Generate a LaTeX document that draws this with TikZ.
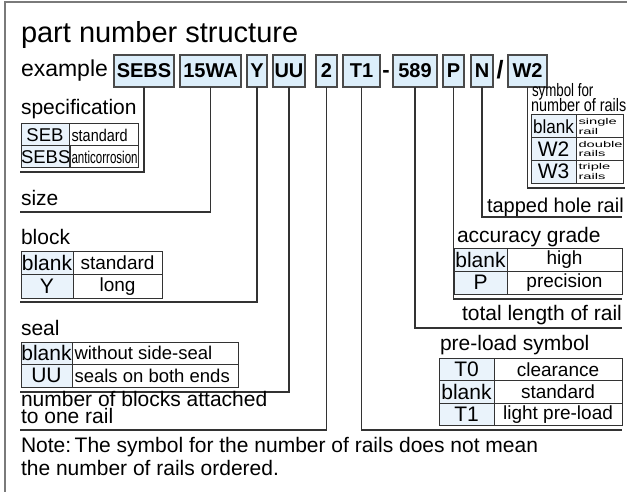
\documentclass[tikz,border=0pt]{standalone}
\usepackage{fontspec}
\setmainfont{Liberation Sans}
\usepackage{graphicx}
\definecolor{boxfill}{HTML}{DCEEFA}
\definecolor{cellfill}{HTML}{EAF3FB}
\definecolor{boxline}{HTML}{4A4A4A}
\definecolor{connline}{HTML}{333333}
\definecolor{framecol}{HTML}{7A7A7A}
\newcommand\fs[1]{\fontsize{#1}{#1}\selectfont}
\newcommand\cx[2]{\scalebox{#1}[1]{#2}}
\newcommand\lt[2]{\makebox[#1][l]{#2}}
\newcommand\twol[2]{\scalebox{1.05}[0.6]{\parbox{40pt}{\fontsize{14}{16}\selectfont #1\\#2}}}
\tikzset{
  pbox/.style={draw=boxline, fill=boxfill, line width=1.2pt, inner sep=0pt, outer sep=0pt,
    minimum height=32pt, font=\fs{20}\bfseries},
  cell/.style={draw=connline, line width=1pt, inner ysep=0pt, inner xsep=2pt, outer sep=0pt, anchor=north west},
  lcell/.style={cell, inner xsep=0pt, fill=cellfill},
  conn/.style={draw=connline, line width=1.2pt},
  lbl/.style={anchor=base west, inner sep=0pt, outer sep=0pt, font=\fs{21}},
}
\begin{document}
\begin{tikzpicture}[x=1pt,y=-1pt]
\useasboundingbox (0,0) rectangle (627,492);
% frame
\draw[framecol, line width=2pt] (5,493) -- (5,2) -- (628,2);
% title
\node[lbl, font=\fs{29}] (title) at (21,43) {part number structure};
\node[lbl, font=\fs{23}] (example) at (21,77) {example};
% part number boxes
\node[pbox, minimum width=60pt] (sebs) at (144,71) {SEBS};
\node[pbox, minimum width=61pt] (size) at (210.5,71) {15WA};
\node[pbox, minimum width=20pt] (blk) at (257,71) {Y};
\node[pbox, minimum width=32pt] (seal) at (289,71) {UU};
\node[pbox, minimum width=21pt] (num) at (326.5,71) {2};
\node[pbox, minimum width=37pt] (pre) at (361.5,71) {T1};
\node[anchor=base, inner sep=0pt, font=\fs{22}\bfseries] (dash) at (386,78) {-};
\node[pbox, minimum width=44pt] (len) at (415,71) {589};
\node[pbox, minimum width=21pt] (acc) at (453.5,71) {P};
\node[pbox, minimum width=22pt] (tap) at (482,71) {N};
\node[anchor=base, inner sep=0pt, font=\fs{25}\bfseries] (slash) at (500,79) {/};
\node[pbox, minimum width=39pt] (rails) at (527.5,71) {W2};

% end coordinates of connectors
\coordinate (specend) at (20,172);
\coordinate (sizeend) at (20,212);
\coordinate (blkend) at (20,302);
\coordinate (sealend) at (20,392);
\coordinate (numend) at (20,430);
\coordinate (preend) at (622,430);
\coordinate (lenend) at (622,328);
\coordinate (accend) at (622,299);
\coordinate (tapend) at (622,217);
\coordinate (railsend) at (625,188);

\draw[conn] (sebs.south) |- (specend);
\draw[conn] (size.south) |- (sizeend);
\draw[conn] (blk.south) |- (blkend);
\draw[conn] (seal.south) |- (sealend);
\draw[conn] (num.south) |- (numend);
\draw[conn] (pre.south) |- (preend);
\draw[conn] (len.south) |- (lenend);
\draw[conn] (acc.south) |- (accend);
\draw[conn] (tap.south) |- (tapend);
\draw[conn] (rails.south) |- (railsend);

% specification
\node[lbl] (speclbl) at (21,115) {specification};
\node[lcell, minimum width=48pt, minimum height=22pt, font=\fs{18.5}] (s11) at (21,124) {SEB};
\node[cell, minimum width=69pt, minimum height=22pt, font=\fs{17}] (s12) at (69,124) {\lt{64pt}{\cx{0.85}{standard}}};
\node[lcell, minimum width=48pt, minimum height=22pt, font=\fs{18.5}] (s21) at (21,146) {SEBS};
\node[cell, minimum width=69pt, minimum height=22pt, font=\fs{17}] (s22) at (69,146) {\lt{64pt}{\cx{0.68}{anticorrosion}}};

% size
\node[lbl] (sizelbl) at (21,205) {size};

% block
\node[lbl] (blklbl) at (21,244) {block};
\node[lcell, minimum width=52pt, minimum height=23.5pt, font=\fs{21}] (b11) at (21,251) {blank};
\node[cell, minimum width=89pt, minimum height=23.5pt, font=\fs{19}] (b12) at (73,251) {standard};
\node[lcell, minimum width=52pt, minimum height=23.5pt, font=\fs{21}] (b21) at (21,274.5) {Y};
\node[cell, minimum width=89pt, minimum height=23.5pt, font=\fs{19}] (b22) at (73,274.5) {long};

% seal
\node[lbl] (seallbl) at (21,335) {seal};
\node[lcell, minimum width=51pt, minimum height=22.5pt, font=\fs{21}] (e11) at (21,342) {blank};
\node[cell, minimum width=166pt, minimum height=22.5pt, font=\fs{18.5}] (e12) at (72,342) {\lt{161pt}{without side-seal}};
\node[lcell, minimum width=51pt, minimum height=22.5pt, font=\fs{21}] (e21) at (21,364.5) {UU};
\node[cell, minimum width=166pt, minimum height=22.5pt, font=\fs{18.5}] (e22) at (72,364.5) {\lt{161pt}{seals on both ends}};

% number of blocks
\node[lbl] (numlbl1) at (21,406) {number of blocks attached};
\node[lbl] (numlbl2) at (21,423) {to one rail};

% note
\node[lbl] (note1) at (21,452) {Note:\,The symbol for the number of rails does not mean};
\node[lbl] (note2) at (21,475) {the number of rails ordered.};

% symbol for number of rails
\node[lbl, font=\fs{18}] (raillbl1) at (532,97) {\cx{0.74}{symbol for}};
\node[lbl, font=\fs{18}] (raillbl2) at (531,112) {\cx{0.8}{number of rails}};
\node[lcell, minimum width=45pt, minimum height=22.7pt, font=\fs{19}] (r11) at (531,115) {\cx{0.9}{blank}};
\node[cell, minimum width=47pt, minimum height=22.7pt] (r12) at (576,115) {\twol{single}{rail}};
\node[lcell, minimum width=45pt, minimum height=22.7pt, font=\fs{21}] (r21) at (531,137.7) {W2};
\node[cell, minimum width=47pt, minimum height=22.7pt] (r22) at (576,137.7) {\twol{double}{rails}};
\node[lcell, minimum width=45pt, minimum height=22.7pt, font=\fs{21}] (r31) at (531,160.4) {W3};
\node[cell, minimum width=47pt, minimum height=22.7pt] (r32) at (576,160.4) {\twol{triple}{rails}};

% tapped hole rail
\node[lbl, font=\fs{20}] (taplbl) at (487,212) {tapped hole rail};

% accuracy grade
\node[lbl] (acclbl) at (457,242) {accuracy grade};
\node[lcell, minimum width=53pt, minimum height=23pt, font=\fs{21}] (a11) at (454,248) {blank};
\node[cell, minimum width=115pt, minimum height=23pt, font=\fs{19}] (a12) at (507,248) {high};
\node[lcell, minimum width=53pt, minimum height=23pt, font=\fs{21}] (a21) at (454,271) {P};
\node[cell, minimum width=115pt, minimum height=23pt, font=\fs{19}] (a22) at (507,271) {precision};

% total length
\node[lbl] (lenlbl) at (462,320) {total length of rail};

% pre-load
\node[lbl] (prelbl) at (440,350) {pre-load symbol};
\node[lcell, minimum width=55pt, minimum height=22.5pt, font=\fs{21}] (p11) at (439,358) {T0};
\node[cell, minimum width=128pt, minimum height=22.5pt, font=\fs{19}] (p12) at (494,358) {clearance};
\node[lcell, minimum width=55pt, minimum height=22.5pt, font=\fs{21}] (p21) at (439,380.5) {blank};
\node[cell, minimum width=128pt, minimum height=22.5pt, font=\fs{19}] (p22) at (494,380.5) {standard};
\node[lcell, minimum width=55pt, minimum height=22.5pt, font=\fs{21}] (p31) at (439,403) {T1};
\node[cell, minimum width=128pt, minimum height=22.5pt, font=\fs{19}] (p32) at (494,403) {light pre-load};
\end{tikzpicture}
\end{document}
